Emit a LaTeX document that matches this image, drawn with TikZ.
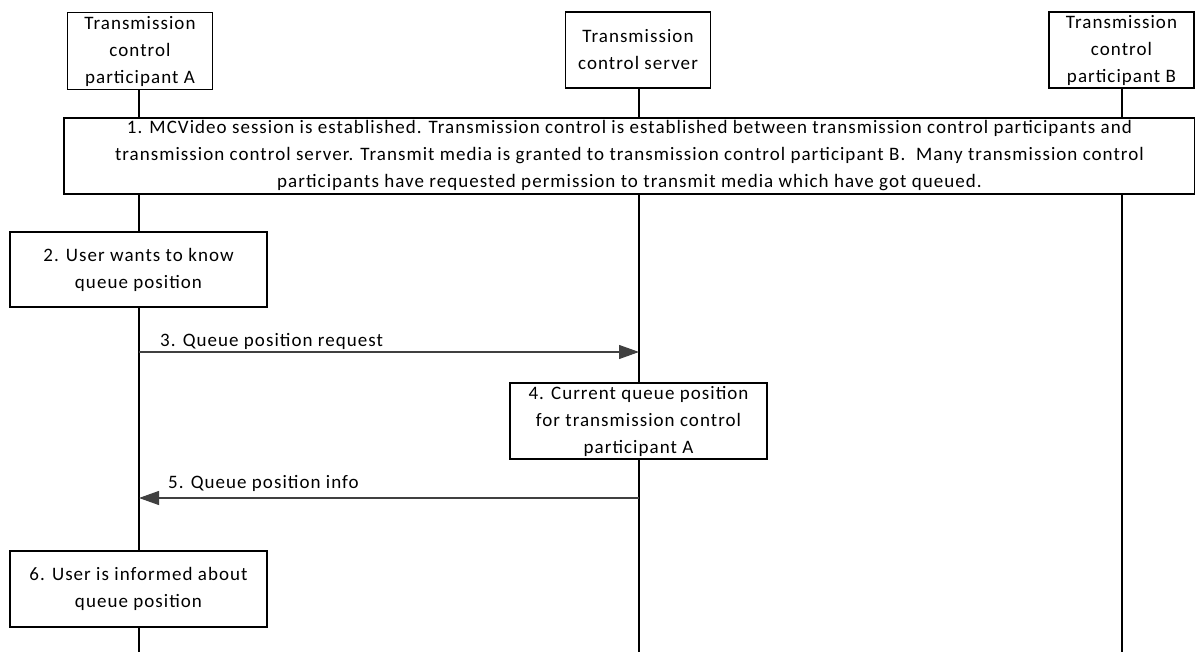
\documentclass[tikz,border=0pt]{standalone}
\usepackage{fontspec}
\setmainfont{Carlito}[LetterSpace=5.5]
\usetikzlibrary{arrows.meta}
\begin{document}
\begin{tikzpicture}[x=1pt,y=-1pt,
  every node/.style={font=\fontsize{19}{27}\selectfont},
  box/.style={draw=black,line width=1.2pt,fill=white,align=center,inner sep=0pt},
  life/.style={draw=black,line width=1.2pt},
  msg/.style={draw=black!75,line width=1.2pt,-{Triangle[length=20pt,width=14pt]}}]
\useasboundingbox (0,0) rectangle (1195,652);
% lifeline end points
\coordinate (Aend) at (139,652);
\coordinate (Send) at (639,652);
\coordinate (Bend) at (1122,652);
\node[box,minimum width=145pt,minimum height=77pt] (A) at (140,51) {Transmission\\control\\participant A};
\node[box,minimum width=145pt,minimum height=76pt] (S) at (638,50) {Transmission\\control server};
\node[box,minimum width=145pt,minimum height=76pt] (B) at (1121.5,50) {Transmission\\control\\participant B};
\draw[life] (A.south -| Aend) -- (Aend);
\draw[life] (S.south -| Send) -- (Send);
\draw[life] (B.south -| Bend) -- (Bend);
\node[box,minimum width=1131pt,minimum height=76pt] (n1) at (629.5,156) {1. MCVideo session is established. Transmission control is established between transmission control participants and\\transmission control server. Transmit media is granted to transmission control participant B.\ \ Many transmission control\\participants have requested permission to transmit media which have got queued.};
\node[box,minimum width=257pt,minimum height=75pt] (n2) at (138.5,269.5) {2. User wants to know\\queue position};
\coordinate (m3s) at (139,352);
\coordinate (m3e) at (639,352);
\draw[msg] (m3s) -- (m3e);
\node[anchor=west,inner sep=0pt] (l3) at (160,341) {3. Queue position request};
\node[box,minimum width=257pt,minimum height=76pt] (n4) at (638.5,421) {4. Current queue position\\for transmission control\\participant A};
\coordinate (m5s) at (639,498);
\coordinate (m5e) at (139,498);
\draw[msg] (m5s) -- (m5e);
\node[anchor=west,inner sep=0pt] (l5) at (168,483) {5. Queue position info};
\node[box,minimum width=257pt,minimum height=76pt] (n6) at (138.5,589) {6. User is informed about\\queue position};
\end{tikzpicture}
\end{document}
